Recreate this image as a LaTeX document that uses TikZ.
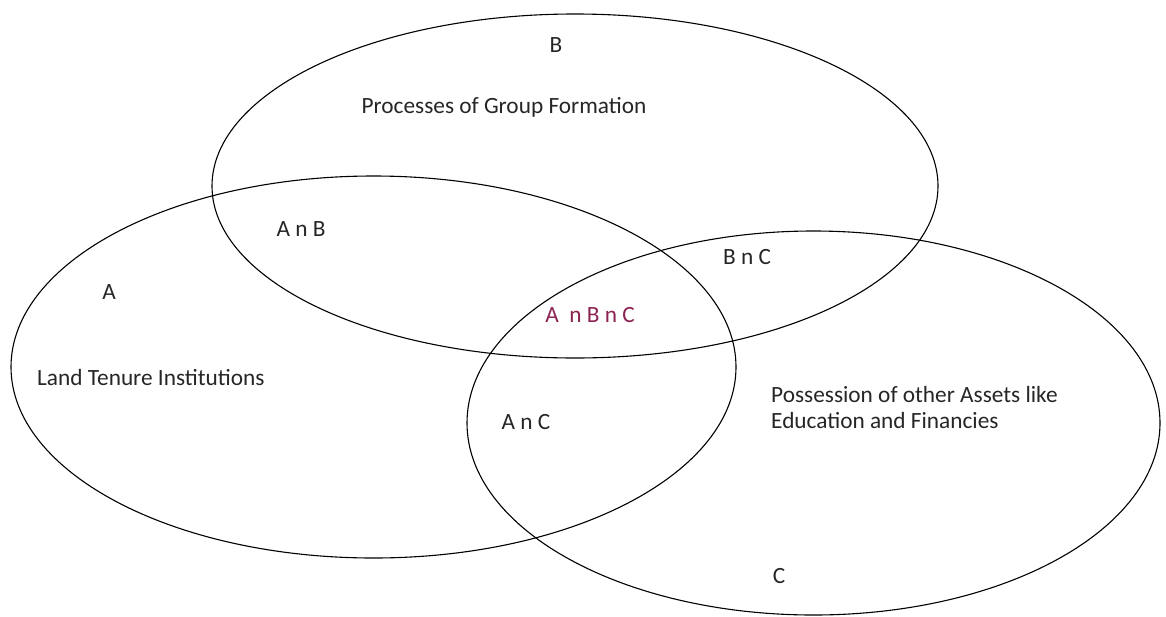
\documentclass[tikz,border=0pt]{standalone}
\usepackage{fontspec}
\setmainfont{Carlito}
\usepackage{tikz}
\usetikzlibrary{shapes.geometric, positioning}
\definecolor{maroon}{HTML}{8B2252}
\tikzstyle{set} = [ellipse, draw, line width=1.1pt, inner sep=0pt]
\tikzstyle{tagtext} = [inner sep=0pt, text=black!85]
\tikzstyle{desc} = [inner sep=0pt, text=black!85, align=left, anchor=west]

\begin{document}
\begin{tikzpicture}[x=1pt, y=-1pt, font=\fontsize{23.3}{26}\selectfont]
        \useasboundingbox (0,0) rectangle (1166,616);
        % Sets
        \node [set, minimum width=725pt, minimum height=382pt] (setA) at (373.5,367) {};
        \node [set, minimum width=726pt, minimum height=344pt] (setB) at (575,186) {};
        \node [set, minimum width=693pt, minimum height=384pt] (setC) at (813.5,423) {};

        % Set names
        \node [tagtext] (nameA) at (109,292) {A};
        \node [tagtext] (nameB) at (556,45) {B};
        \node [tagtext] (nameC) at (779,576) {C};

        % Intersections
        \node [tagtext] (AB) at (301,229) {A n B};
        \node [tagtext] (BC) at (747,257) {B n C};
        \node [tagtext] (AC) at (526,422) {A n C};
        \node [tagtext, text=maroon] (ABC) at (590,315) {A \ n B n C};

        % Descriptions
        \node [tagtext] (descB) at (504,107) {Processes of Group Formation};
        \node [desc] (descA) at (37,377) {Land Tenure Institutions};
        \node [desc] (descC) at (771,407) {Possession of other Assets like\\Education and Financies};
\end{tikzpicture}
\end{document}
